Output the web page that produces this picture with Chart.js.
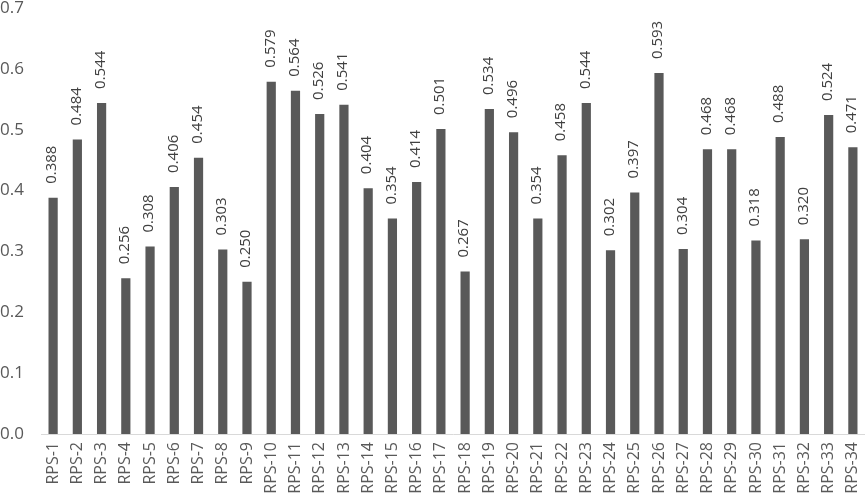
<!DOCTYPE html>
<html>
<head>
<meta charset="utf-8">
<script src="https://cdn.jsdelivr.net/npm/chart.js@4"></script>
<style>
  html, body { margin: 0; padding: 0; background: #fff; }
  #wrap { width: 865px; height: 493px; }
</style>
</head>
<body>
<div id="wrap"><canvas id="rps_chart"></canvas></div>
<script>
  var categories = [];
  for (var i = 1; i <= 34; i++) categories.push('RPS-' + i);

  var values = [0.388, 0.484, 0.544, 0.256, 0.308, 0.406, 0.454, 0.303, 0.250, 0.579,
                0.564, 0.526, 0.541, 0.404, 0.354, 0.414, 0.501, 0.267, 0.534, 0.496,
                0.354, 0.458, 0.544, 0.302, 0.397, 0.593, 0.304, 0.468, 0.468, 0.318,
                0.488, 0.320, 0.524, 0.471];

  var y_min = 0, y_max = 0.7, y_step = 0.1;

  //  rotated value labels above bars
  var valueLabels = {
    id: 'valueLabels',
    afterDatasetsDraw: function(chart) {
      var ctx = chart.ctx,
          meta = chart.getDatasetMeta(0);
      ctx.save();
      ctx.font = '15px "Open Sans"';
      ctx.fillStyle = '#404040';
      ctx.textAlign = 'left';
      ctx.textBaseline = 'middle';
      meta.data.forEach(function(bar, idx) {
        ctx.save();
        ctx.translate(bar.x - 1, bar.y - 14);
        ctx.rotate(-Math.PI / 2);
        ctx.fillText(values[idx].toFixed(3), 0, 0);
        ctx.restore();
      });
      ctx.restore();
    }
  };

  //  drop the auto padding so the plot area fills the canvas
  function noPad(scale) {
    scale.paddingTop = 0;
    scale.paddingBottom = 0;
    scale.paddingLeft = 0;
    scale.paddingRight = 0;
  }

  var ctx = document.getElementById('rps_chart').getContext('2d');
  var myBar = new Chart(ctx, {
    type: 'bar',
    data: {
      labels: categories,
      datasets: [{
        data: values,
        backgroundColor: '#595959',
        categoryPercentage: 1,
        barPercentage: 0.38
      }]
    },
    options: {
      responsive: true,
      maintainAspectRatio: false,
      animation: false,
      layout: { padding: { top: 8, right: 0, left: 0, bottom: 0 } },
      plugins: {
        legend: { display: false },
        tooltip: { enabled: false }
      },
      scales: {
        x: {
          grid: { display: false, drawTicks: false },
          border: { display: true, color: '#d9d9d9', width: 1 },
          ticks: {
            color: '#595959',
            font: { family: 'Open Sans', size: 16 },
            minRotation: 90,
            maxRotation: 90,
            padding: 8,
            autoSkip: false
          },
          afterFit: function(scale) { scale.height = 59; noPad(scale); }
        },
        y: {
          min: y_min,
          max: y_max,
          grid: { display: false, drawTicks: false },
          border: { display: false },
          ticks: {
            stepSize: y_step,
            color: '#595959',
            font: { family: 'Open Sans', size: 17 },
            padding: 17,
            callback: function(v) { return v.toFixed(1); }
          },
          afterFit: function(scale) { scale.width = 41; noPad(scale); }
        }
      }
    },
    plugins: [valueLabels]
  });
</script>
</body>
</html>
